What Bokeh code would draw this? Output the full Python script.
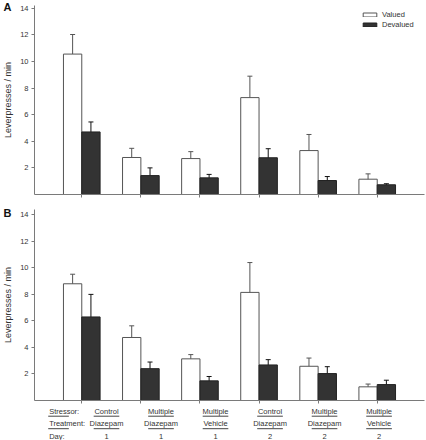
import numpy as np
from bokeh.plotting import figure
from bokeh.models import (ColumnDataSource, Range1d, FixedTicker, Whisker, Legend,
                          LegendItem, Title, TeeHead)
from bokeh.layouts import column
from bokeh.embed import file_html
from bokeh.resources import INLINE
from bokeh.core.properties import value

# ---------------- data ----------------
groups = [0, 1, 2, 3, 4, 5]
stressor = ["Control", "Multiple", "Multiple", "Control", "Multiple", "Multiple"]
treatment = ["Diazepam", "Diazepam", "Vehicle", "Diazepam", "Diazepam", "Vehicle"]
day = ["1", "1", "1", "2", "2", "2"]
row_labels = ["Stressor:", "Treatment:", "Day:"]
y_ticks = [2, 4, 6, 8, 10, 12, 14]
series_names = ["Valued", "Devalued"]

a_valued = [10.55, 2.78, 2.70, 7.28, 3.30, 1.15]
a_valued_err = [1.47, 0.69, 0.52, 1.61, 1.21, 0.40]
a_devalued = [4.70, 1.42, 1.25, 2.76, 1.05, 0.73]
a_devalued_err = [0.75, 0.58, 0.26, 0.68, 0.30, 0.08]

b_valued = [8.80, 4.75, 3.14, 8.15, 2.58, 1.03]
b_valued_err = [0.72, 0.88, 0.32, 2.25, 0.62, 0.21]
b_devalued = [6.30, 2.40, 1.48, 2.68, 2.03, 1.20]
b_devalued_err = [1.70, 0.50, 0.33, 0.40, 0.52, 0.33]

# ---------------- style / layout ----------------
W = 426
BL, BR = 31, 2
X0, X1 = -0.8, 5.8
SCALE = (W - BL - BR) / (X1 - X0)   # px per data unit
BW = 0.31
FONT = "Liberation Sans"
TXT = "#333333"
AXC = "#7a7a7a"
DARK = "#333333"


def panel(letter, v, ve, d, de, height, top, bottom, ymax, letter_standoff, legend=False):
    p = figure(width=W, height=height, x_range=Range1d(X0, X1), y_range=Range1d(0, ymax),
               output_backend="svg", toolbar_location=None,
               min_border_left=BL, min_border_right=BR,
               min_border_top=top, min_border_bottom=bottom)
    p.outline_line_color = None
    p.grid.visible = False
    p.background_fill_color = "white"

    xv = [g - BW / 2 for g in groups]
    xd = [g + BW / 2 for g in groups]
    src_v = ColumnDataSource(dict(x=xv, top=v, up=[a + b for a, b in zip(v, ve)],
                                  lo=[a - b for a, b in zip(v, ve)]))
    src_d = ColumnDataSource(dict(x=xd, top=d, up=[a + b for a, b in zip(d, de)],
                                  lo=[a - b for a, b in zip(d, de)]))
    rv = p.vbar(x="x", top="top", width=BW, bottom=0, source=src_v,
                fill_color="white", line_color="#555555", line_width=1)
    rd = p.vbar(x="x", top="top", width=BW, bottom=0, source=src_d,
                fill_color=DARK, line_color="#222222", line_width=1)
    for src, col in ((src_v, "#555555"), (src_d, "#111111")):
        w = Whisker(base="x", upper="up", lower="lo", source=src, dimension="height",
                    line_color=col, line_width=1,
                    upper_head=TeeHead(size=5, line_color=col, line_width=1),
                    lower_head=TeeHead(size=5, line_color=col, line_width=1))
        p.add_layout(w)

    # axes
    ya = p.yaxis[0]
    ya.ticker = FixedTicker(ticks=y_ticks)
    ya.axis_label = "Leverpresses / min"
    ya.axis_label_text_font = FONT
    ya.axis_label_text_font_style = "normal"
    ya.axis_label_text_font_size = "9px"
    ya.axis_label_text_color = TXT
    ya.axis_label_standoff = 4
    ya.major_label_text_font = FONT
    ya.major_label_text_font_size = "7.5px"
    ya.major_label_text_color = TXT
    ya.major_label_standoff = 3
    ya.major_tick_out = 3
    ya.major_tick_in = 0
    ya.minor_tick_out = 0
    ya.minor_tick_in = 0
    ya.axis_line_color = AXC
    ya.major_tick_line_color = AXC

    xa = p.xaxis[0]
    xa.ticker = FixedTicker(ticks=[], minor_ticks=groups)
    xa.major_tick_out = 0
    xa.major_tick_in = 0
    xa.minor_tick_out = 3
    xa.minor_tick_in = 0
    xa.axis_line_color = AXC
    xa.minor_tick_line_color = AXC

    t = Title(text=letter, align="left", offset=-31, standoff=letter_standoff,
              vertical_align="bottom", text_font=FONT, text_font_style="bold",
              text_font_size="11px", text_color="#111111")
    p.add_layout(t, "above")

    if legend:
        lg = Legend(items=[LegendItem(label=series_names[0], renderers=[rv]),
                           LegendItem(label=series_names[1], renderers=[rd])],
                    location=(327, 165), orientation="vertical",
                    glyph_width=17, glyph_height=5, label_height=9, spacing=1,
                    padding=0, margin=0, label_standoff=4,
                    label_text_font=FONT, label_text_font_size="7.5px",
                    label_text_color=TXT, border_line_color=None,
                    background_fill_alpha=0)
        p.add_layout(lg)
    return p


pa = panel("A", a_valued, a_valued_err, a_devalued, a_devalued_err,
           height=200, top=5, bottom=6, ymax=14.2, letter_standoff=-14, legend=True)
pb = panel("B", b_valued, b_valued_err, b_devalued, b_devalued_err,
           height=204, top=9, bottom=4, ymax=14.4, letter_standoff=-19)

# ---------------- table below ----------------
HC = 36
cx0 = X0 - BL / SCALE
cx1 = X1 + BR / SCALE
pc = figure(width=W, height=HC, x_range=Range1d(cx0, cx1), y_range=Range1d(HC, 0),
            output_backend="svg", toolbar_location=None,
            min_border_left=0, min_border_right=0, min_border_top=0, min_border_bottom=0)
pc.outline_line_color = None
pc.grid.visible = False
pc.axis.visible = False

row_y = [6.7, 19.3, 31.7]
line_y = [11.7, 24.2]
half = 14 / SCALE

gx = groups * 3
gy = [row_y[0]] * 6 + [row_y[1]] * 6 + [row_y[2]] * 6
gt = stressor + treatment + day
pc.text(x=gx, y=gy, text=gt, text_font=value(FONT), text_font_size="7.5px",
        text_color=TXT, text_align="center", text_baseline="middle")

lab_x = cx0 + 16 / SCALE
pc.text(x=[lab_x] * 3, y=row_y, text=row_labels, text_font=value(FONT),
        text_font_size="7.5px", text_color=TXT, text_align="left", text_baseline="middle")

sx0 = [g - half for g in groups] * 2 + [cx0 + 15 / SCALE] * 2
sx1 = [g + half for g in groups] * 2 + [cx0 + 37.5 / SCALE] * 2
sy = [line_y[0]] * 6 + [line_y[1]] * 6 + line_y
pc.segment(x0=sx0, y0=sy, x1=sx1, y1=sy, line_color="#444444", line_width=1)

layout = column(pa, pb, pc, spacing=0)
open("out.html", "w").write(file_html(layout, INLINE))
